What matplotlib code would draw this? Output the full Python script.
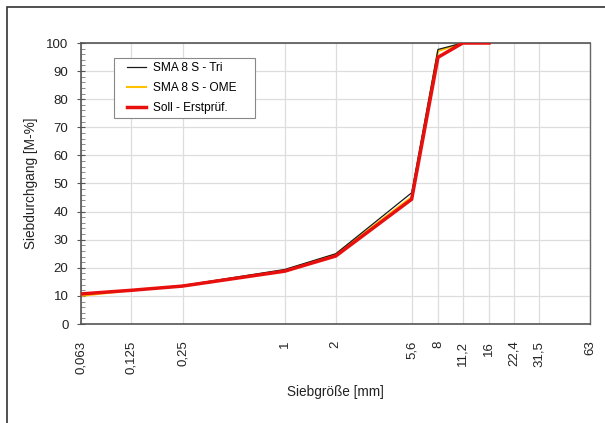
import matplotlib
matplotlib.use("Agg")
import matplotlib.pyplot as plt
from matplotlib.patches import Rectangle
from matplotlib.ticker import FixedLocator, NullFormatter, MultipleLocator

plt.rcParams['font.family'] = ['Liberation Sans', 'DejaVu Sans']

sieve = [0.063, 0.125, 0.25, 1, 2, 5.6, 8, 11.2, 16]
tri = [10.5, 12.0, 13.7, 19.4, 25.0, 46.7, 97.7, 100, 100]
ome = [10.0, 12.0, 13.5, 19.1, 24.8, 45.2, 97.1, 100, 100]
soll = [10.7, 12.0, 13.5, 18.8, 24.2, 44.4, 94.9, 100, 100]

tick_vals = [0.063, 0.125, 0.25, 1, 2, 5.6, 8, 11.2, 16, 22.4, 31.5, 63]
tick_labels = ["0,063", "0,125", "0,25", "1", "2", "5,6", "8", "11,2", "16", "22,4", "31,5", "63"]

W, H = 605, 423
fig = plt.figure(figsize=(W / 100, H / 100), dpi=100)
ax = fig.add_axes([81 / W, 1 - 324 / H, (590 - 81) / W, (324 - 43) / H])

ax.plot(sieve, soll, color="#e8100f", lw=2.5, label="Soll - Erstprüf.", zorder=3)
ax.plot(sieve, ome, color="#ffc000", lw=1.5, label="SMA 8 S - OME", zorder=2)
ax.plot(sieve, tri, color="#1a1a1a", lw=0.9, label="SMA 8 S - Tri", zorder=2)

ax.set_xscale("log")
ax.set_xlim(0.063, 63)
ax.set_ylim(0, 100)
ax.xaxis.set_major_locator(FixedLocator(tick_vals))
ax.xaxis.set_minor_locator(FixedLocator([]))
ax.xaxis.set_minor_formatter(NullFormatter())
ax.set_xticklabels(tick_labels, rotation=90, fontsize=9.5, color="#222222")
ax.yaxis.set_major_locator(MultipleLocator(10))
ax.yaxis.set_minor_locator(MultipleLocator(2))
ax.tick_params(axis="y", which="major", direction="inout", length=6, width=0.8,
               color="#555555", labelsize=9.5, labelcolor="#222222", pad=6)
ax.tick_params(axis="y", which="minor", direction="in", length=3, width=0.6, color="#777777")
ax.tick_params(axis="x", which="major", length=0, pad=12)

ax.grid(True, which="major", color="#dddddd", lw=0.9)
ax.set_axisbelow(True)
for side in ["left", "bottom", "top"]:
    ax.spines[side].set_color("#555555")
    ax.spines[side].set_linewidth(1.2)
ax.spines["right"].set_color("#666666")
ax.spines["right"].set_linewidth(1.0)

ax.set_xlabel("Siebgröße [mm]", fontsize=9.8, color="#222222", labelpad=8)
ax.set_ylabel("Siebdurchgang [M-%]", fontsize=9.8, color="#222222", labelpad=6)

# legend entries without frame; the box is drawn separately
handles, labels = ax.get_legend_handles_labels()
order = [2, 1, 0]
leg = fig.legend([handles[i] for i in order], [labels[i] for i in order],
                 loc="upper left", bbox_to_anchor=(127 / W, 1 - 62 / H), fontsize=8.6,
                 frameon=False, handlelength=1.55, handletextpad=0.6,
                 borderpad=0, borderaxespad=0, labelspacing=0.68)
fig.patches.append(Rectangle((114 / W, 1 - 118 / H), (255 - 114) / W, 60 / H,
                             transform=fig.transFigure, facecolor="white",
                             edgecolor="#888888", lw=0.8, zorder=5))
leg.set_zorder(6)

fig.patches.append(Rectangle((7 / W, -0.02), 1.2, 1 - 7 / H + 0.02,
                             transform=fig.transFigure, fill=False,
                             edgecolor="#333333", lw=1.2))

fig.savefig("out.png", dpi=100)
